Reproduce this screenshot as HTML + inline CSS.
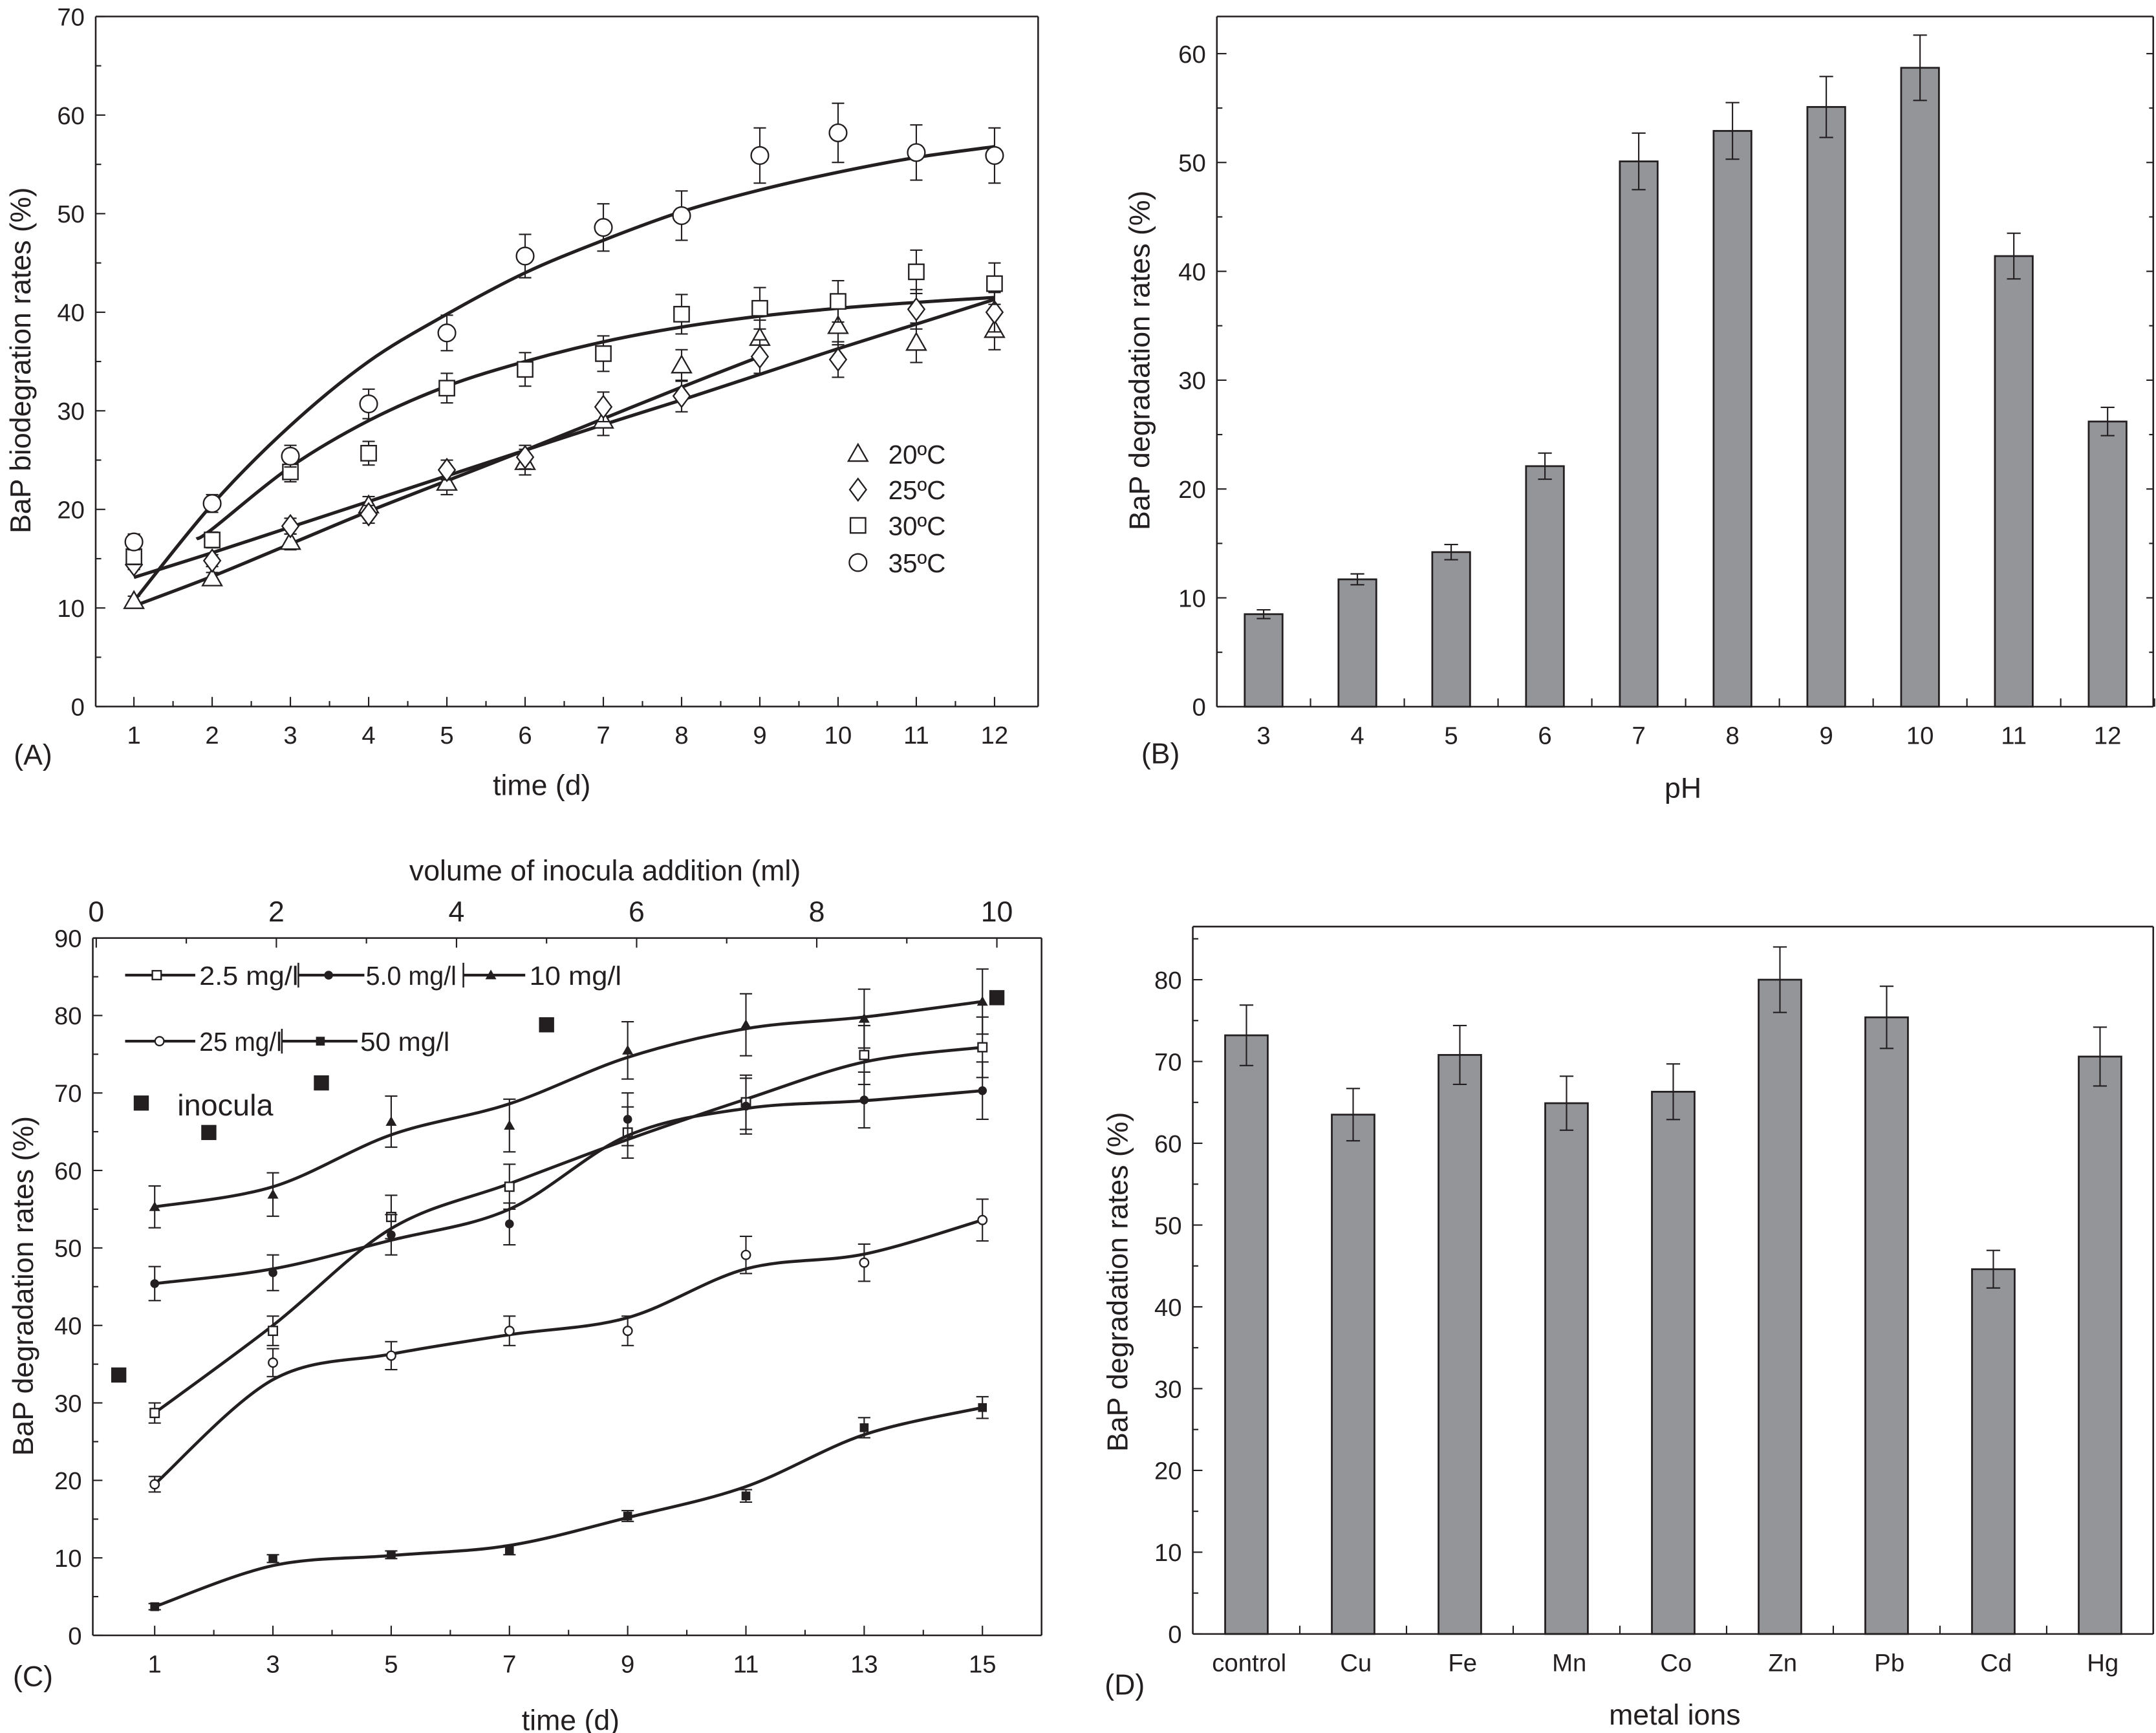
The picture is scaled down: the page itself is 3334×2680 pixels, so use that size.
<!DOCTYPE html>
<html><head><meta charset="utf-8"><style>
html,body{margin:0;padding:0;background:#fff;}
svg{display:block;}
text{font-family:"Liberation Sans",sans-serif;fill:#231f20;}
</style></head><body>
<svg id="fig" xmlns="http://www.w3.org/2000/svg" width="3334" height="2680" viewBox="0 0 1568 1260" preserveAspectRatio="none"></svg>
<script>
// ---------- Panel A data ----------
const daysA = [1,2,3,4,5,6,7,8,9,10,11,12];
const a20 = [10.7,13.0,16.7,20.4,22.7,24.8,29.0,34.6,37.4,38.6,36.9,38.2];
const a20err = [0.5,0.6,0.8,0.9,1.2,1.3,1.5,1.6,1.8,1.9,2,2];
const a25 = [14.4,14.8,18.3,19.5,24.0,25.3,30.4,31.5,35.5,35.2,40.3,40.0];
const a25err = [0.5,0.6,0.8,0.9,1,1.2,1.5,1.6,1.7,1.8,2,2];
const a30 = [15.2,16.9,23.8,25.7,32.3,34.2,35.8,39.8,40.4,41.1,44.1,42.9];
const a30err = [0.8,0.8,1,1.2,1.5,1.7,1.8,2,2.1,2.1,2.2,2.1];
const a35 = [16.7,20.6,25.4,30.7,37.9,45.7,48.6,49.8,55.9,58.2,56.2,55.9];
const a35err = [0.8,0.9,1.1,1.5,1.8,2.2,2.4,2.5,2.8,3,2.8,2.8];
const fit35x = [1,2,3,4,5,6,7,8,9,10,11,12];
const fit35y = [10.7,20.5,28.5,35,39.8,44,47.3,50.2,52.4,54.2,55.7,56.8];
const fit30x = [1.8,2,3,4,5,6,7,8,9,10,11,12];
const fit30y = [17,18,24.3,29,32.5,35,37,38.5,39.6,40.4,41,41.5];
const fitUx = [1,2,3,4,5,6,7,8,9,10,11,12];
const fitUy = [13.1,15.6,18.2,20.8,23.4,26,28.6,31.1,33.7,36.3,38.8,41.3];
const fitLx = [1,2,3,4,5,6,7,8,9];
const fitLy = [10.2,13.2,16.5,19.8,22.9,26,29.2,32.4,35.5];
// ---------- Panel B data ----------
const phCats = ['3','4','5','6','7','8','9','10','11','12'];
const phVals = [8.5,11.7,14.2,22.1,50.1,52.9,55.1,58.7,41.4,26.2];
const phErr = [0.4,0.5,0.7,1.2,2.6,2.6,2.8,3,2.1,1.3];
// ---------- Panel C data ----------
const daysC = [1,3,5,7,9,11,13,15];
const c25 = [28.7,39.3,54.0,57.9,64.9,68.8,74.9,75.9];
const c25err = [1.3,1.9,2.8,2.9,3.3,3.5,3.8,3.9];
const c25fit = [28.7,40,52.5,58.3,64,69.2,74,75.9];
const c50 = [45.4,46.8,51.7,53.1,66.6,68.3,69.1,70.3];
const c50err = [2.2,2.3,2.6,2.7,3.4,3.6,3.6,3.7];
const c50fit = [45.4,47.3,51,55,64.5,68,69,70.3];
const c10 = [55.3,56.9,66.3,65.8,75.5,78.8,79.6,81.8];
const c10err = [2.7,2.8,3.3,3.4,3.7,4,3.8,4.2];
const c10fit = [55.3,57.9,64.6,68.6,74.6,78.3,79.8,81.8];
const c250 = [19.5,35.2,36.1,39.3,39.3,49.1,48.1,53.6];
const c250err = [1,1.8,1.8,1.9,1.9,2.4,2.4,2.7];
const c250fit = [19.5,33,36.3,38.8,41,47.3,49.2,53.6];
const c500 = [3.7,9.9,10.4,11.0,15.4,18.0,26.8,29.4];
const c500err = [0.4,0.5,0.5,0.6,0.7,0.8,1.3,1.4];
const c500fit = [3.7,9,10.3,11.6,15.2,19.2,25.9,29.4];
const inocMl = [0.25,0.5,1.25,2.5,5,10];
const inocVals = [33.6,68.7,64.9,71.3,78.8,82.3];
// ---------- Panel D data ----------
const metalCats = ['control','Cu','Fe','Mn','Co','Zn','Pb','Cd','Hg'];
const metalVals = [73.2,63.5,70.8,64.9,66.3,80.0,75.4,44.6,70.6];
const metalErr = [3.7,3.2,3.6,3.3,3.4,4.0,3.8,2.3,3.6];

const NS='http://www.w3.org/2000/svg';
const svg=document.getElementById('fig');
function mk(tag,attrs,parent){const e=document.createElementNS(NS,tag);for(const k in attrs)e.setAttribute(k,attrs[k]);(parent||svg).appendChild(e);return e;}
function txt(s,x,y,size,anchor,parent,rot){const t=mk('text',{x:x,y:y,'font-size':size,'text-anchor':anchor||'middle'},parent);if(rot)t.setAttribute('transform','rotate(-90 '+x+' '+y+')');t.textContent=s;return t;}
function lin(x1,y1,x2,y2,w,parent){return mk('line',{x1:x1,y1:y1,x2:x2,y2:y2,stroke:'#231f20','stroke-width':w||1},parent);}
function frame(L,T,R,B,parent,name){const f=mk('g',{},parent);lin(L,T,R,T,1.2,f);lin(R,T,R,B,1.2,f);lin(R,B,L,B,1.2,f);lin(L,B,L,T,1.2,f);return f;}
function smooth(pts){let d='M'+pts[0][0]+','+pts[0][1];for(let i=0;i<pts.length-1;i++){const p0=pts[i-1]||pts[i],p1=pts[i],p2=pts[i+1],p3=pts[i+2]||p2;const c1x=p1[0]+(p2[0]-p0[0])/6,c1y=p1[1]+(p2[1]-p0[1])/6,c2x=p2[0]-(p3[0]-p1[0])/6,c2y=p2[1]-(p3[1]-p1[1])/6;d+=' C'+c1x+','+c1y+' '+c2x+','+c2y+' '+p2[0]+','+p2[1];}return d;}
function marker(type,x,y,s,parent){
  let e;
  if(type==='circle'){e=mk('circle',{cx:x,cy:y,r:s,fill:'#fff',stroke:'#231f20','stroke-width':1.1},parent);}
  else if(type==='fcircle'){e=mk('circle',{cx:x,cy:y,r:s,fill:'#231f20'},parent);}
  else if(type==='square'){e=mk('rect',{x:x-s,y:y-s,width:2*s,height:2*s,fill:'#fff',stroke:'#231f20','stroke-width':1.1},parent);}
  else if(type==='fsquare'){e=mk('rect',{x:x-s,y:y-s,width:2*s,height:2*s,fill:'#231f20'},parent);}
  else if(type==='diamond'){e=mk('polygon',{points:(x)+','+(y-s)+' '+(x+s*0.75)+','+y+' '+x+','+(y+s)+' '+(x-s*0.75)+','+y,fill:'#fff',stroke:'#231f20','stroke-width':1.1},parent);}
  else if(type==='triangle'){e=mk('polygon',{points:x+','+(y-s)+' '+(x+s)+','+(y+s*0.75)+' '+(x-s)+','+(y+s*0.75),fill:'#fff',stroke:'#231f20','stroke-width':1.1},parent);}
  else if(type==='ftriangle'){e=mk('polygon',{points:x+','+(y-s)+' '+(x+s)+','+(y+s*0.75)+' '+(x-s)+','+(y+s*0.75),fill:'#231f20'},parent);}
  return e;
}
function errbar(x,y1,y2,cap,parent){const g=mk('g',{},parent);lin(x,y1,x,y2,1,g);lin(x-cap,y1,x+cap,y1,1,g);lin(x-cap,y2,x+cap,y2,1,g);return g;}

// ================= Panel A =================
(function(){
  const L=69.6,R=755,T=12,B=513.7;
  const sx=d=>97.4+(d-1)*56.9, sy=v=>B-(v/70)*(B-T);
  const g=mk('g',{});
  frame(L,T,R,B,g,'plot-frame-a');
  for(let v=0;v<=70;v+=5){const y=sy(v);lin(L,y,L+(v%10?4:7),y,1,g);if(v%10===0){const t=txt(String(v),L-8,y+6.5,18,'end',g);}}
  for(let d=1;d<=12;d+=0.5){const x=sx(d);lin(x,B,x,B-(d%1?4:7),1,g);if(d%1===0){const t=txt(String(d),x,B+27,18,'middle',g);}}
  const yt=txt('BaP biodegration rates (%)',22,262,21,'middle',g,true);
  const xt=txt('time (d)',394,578,21,'middle',g);
  const pl=txt('(A)',24,556,21,'middle',g);
  const fits=[[fit35x,fit35y],[fit30x,fit30y],[fitUx,fitUy],[fitLx,fitLy]];
  fits.forEach((f,i)=>{const p=mk('path',{d:smooth(f[0].map((d,j)=>[sx(d),sy(f[1][j])])),fill:'none',stroke:'#231f20','stroke-width':2.4},g);});
  const series=[[a20,a20err,'triangle',7,'20'],[a25,a25err,'diamond',8,'25'],[a30,a30err,'square',5.5,'30'],[a35,a35err,'circle',6.3,'35']];
  series.forEach(s=>{daysA.forEach((d,i)=>{const x=sx(d);const eb=errbar(x,sy(s[0][i]+s[1][i]),sy(s[0][i]-s[1][i]),4.5,g);const m=marker(s[2],x,sy(s[0][i]),s[3],g);});});
  const ly=[330,356,382,409];
  series.forEach((s,i)=>{const m=marker(s[2],624,ly[i],s[3],g);const t=txt(s[4]+'ºC',646,ly[i]+7,19,'start',g);});
})();

// ================= Panel B =================
(function(){
  const L=885,R=1566,T=12,B=513.8;
  const sy=v=>B-(v/60)*(B-39), sx=i=>919+i*68.2;
  const g=mk('g',{});
  frame(L,T,R,B,g,'plot-frame-b');
  for(let v=0;v<=60;v+=5){const y=sy(v);lin(L,y,L+(v%10?4:7),y,1,g);lin(R,y,R-(v%10?3:5),y,1,g);if(v%10===0){const t=txt(String(v),L-8,y+6.5,18,'end',g);}}
  phCats.forEach((c,i)=>{const x=sx(i);lin(x,B,x,B-6,1,g);lin(x+34.1,B,x+34.1,B-6,1,g);
    const w=27.5;const r=mk('rect',{x:x-w/2,y:sy(phVals[i]),width:w,height:B-sy(phVals[i]),fill:'#939598',stroke:'#231f20','stroke-width':1.3},g);
    const eb=errbar(x,sy(phVals[i]+phErr[i]),sy(phVals[i]-phErr[i]),5,g);
    const t=txt(c,x,B+27,18,'middle',g);});
  const yt=txt('BaP degradation rates (%)',836,262,21,'middle',g,true);
  const xt=txt('pH',1224,580,21,'middle',g);
  const pl=txt('(B)',844,555,21,'middle',g);
})();

// ================= Panel C =================
(function(){
  const L=67.5,R=757.5,T=682,B=1189;
  const sx=d=>112.5+(d-1)*43.0, sy=v=>B-(v/90)*(B-T), sxm=m=>70+m*65.5;
  const g=mk('g',{});
  frame(L,T,R,B,g,'plot-frame-c');
  for(let v=0;v<=90;v+=5){const y=sy(v);lin(L,y,L+(v%10?4:7),y,1,g);if(v%10===0){const t=txt(String(v),L-8,y+6.5,18,'end',g);}}
  for(let d=1;d<=16;d++){const x=sx(d);if(x>R)break;lin(x,B,x,B-(d%2?7:4),1,g);if(d%2===1){const t=txt(String(d),x,B+27,18,'middle',g);}}
  for(let m=0;m<=10;m++){const x=sxm(m);lin(x,T,x,T+(m%2?4:7),1,g);if(m%2===0){const t=txt(String(m),x,T-12,21,'middle',g);}}
  const yt=txt('BaP degradation rates (%)',24,935,21,'middle',g,true);
  const xt=txt('time (d)',415,1258,21,'middle',g);
  const tt=txt('volume of inocula addition (ml)',440,640,21,'middle',g);
  const pl=txt('(C)',24,1226,21,'middle',g);
  const series=[[c25,c25err,c25fit,'square','2.5'],[c50,c50err,c50fit,'fcircle','5.0'],[c10,c10err,c10fit,'ftriangle','10'],[c250,c250err,c250fit,'circle','25'],[c500,c500err,c500fit,'fsquare','50']];
  series.forEach(s=>{const p=mk('path',{d:smooth(daysC.map((d,j)=>[sx(d),sy(s[2][j])])),fill:'none',stroke:'#231f20','stroke-width':2.2},g);
    daysC.forEach((d,i)=>{const x=sx(d);const eb=errbar(x,sy(s[0][i]+s[1][i]),sy(s[0][i]-s[1][i]),4.5,g);const m=marker(s[3],x,sy(s[0][i]),s[3].indexOf('triangle')>=0?4:3.2,g);});});
  inocMl.forEach((m,i)=>{const r=mk('rect',{x:sxm(m)-5.5,y:sy(inocVals[i])-5.5,width:11,height:11,fill:'#231f20'},g);});
  const it=txt('inocula',129,811,22,'start',g);
  const leg=[[91,142,114,709,'square','2.5 mg/l',145,72,false],[217,265,239,709,'fcircle','5.0 mg/l',266,66,true],[337,382,357,709,'ftriangle','10 mg/l',385,67,true],[91,142,116,757,'circle','25 mg/l',145,60,false],[205,260,233,757,'fsquare','50 mg/l',262,65,true]];
  leg.forEach(l=>{const lg=mk('g',{},g);
    lin(l[0],l[3],l[1],l[3],2,lg);marker(l[4],l[2],l[3],l[4].indexOf('triangle')>=0?4:3.2,lg);if(l[8])lin(l[0],l[3]-9,l[0],l[3]+9,1.2,lg);
    const t=txt(l[5],l[6],l[3]+7,19,'start',lg);t.setAttribute('textLength',l[7]);t.setAttribute('lengthAdjust','spacingAndGlyphs');});
})();

// ================= Panel D =================
(function(){
  const L=867.5,R=1566,T=673.7,B=1188;
  const sy=v=>B-(v/80)*(B-712.3), sx=i=>906.5+i*77.6;
  const g=mk('g',{});
  frame(L,T,R,B,g,'plot-frame-d');
  for(let v=0;v<=85;v+=5){const y=sy(v);lin(L,y,L+(v%10?4:7),y,1,g);if(v%10===0){const t=txt(String(v),L-8,y+6.5,18,'end',g);}}
  metalCats.forEach((c,i)=>{const x=sx(i);lin(x,B,x,B-6,1,g);lin(x+38.8,B,x+38.8,B-6,1,g);
    const w=31;const r=mk('rect',{x:x-w/2,y:sy(metalVals[i]),width:w,height:B-sy(metalVals[i]),fill:'#939598',stroke:'#231f20','stroke-width':1.3},g);
    const eb=errbar(x,sy(metalVals[i]+metalErr[i]),sy(metalVals[i]-metalErr[i]),5,g);
    const t=txt(c,x+2,B+27,18,'middle',g);});
  const yt=txt('BaP degradation rates (%)',820,932,21,'middle',g,true);
  const xt=txt('metal ions',1218,1254,21,'middle',g);
  const pl=txt('(D)',818,1232,21,'middle',g);
})();
</script>
</body></html>
